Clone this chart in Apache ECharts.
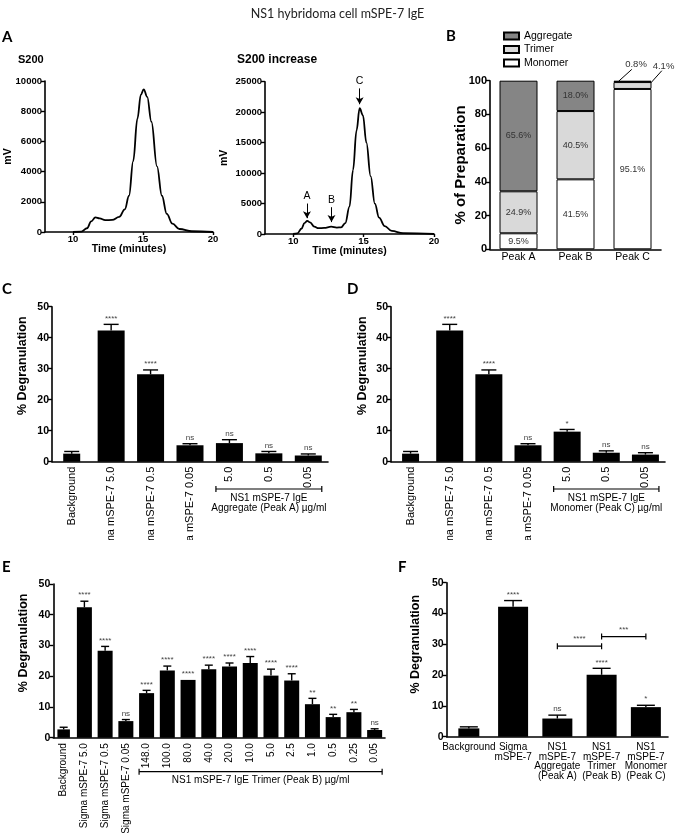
<!DOCTYPE html>
<html><head><meta charset="utf-8">
<script src="https://cdn.jsdelivr.net/npm/echarts@6/dist/echarts.min.js"></script>
<style>
html,body{margin:0;padding:0;background:#fff;}
#main{position:absolute;left:0;top:0;width:675px;height:833px;}
#cd{position:absolute;left:0;top:280px;width:675px;height:260px;}
</style></head><body>
<div id="main"></div><div id="cd"></div>
<script>
// ---------------- DATA ----------------
const figTitle = 'NS1 hybridoma cell mSPE-7 IgE';

// Panel A: chromatograms (time in minutes, signal in mV)
const a1Title = 'S200';
const a1Time = [10.0, 10.6, 11.0, 11.3, 11.6, 11.9, 12.3, 12.8, 13.3, 13.7, 14.0, 14.3, 14.6, 14.85, 15.05, 15.3, 15.6, 16.0, 16.35, 16.7, 17.1, 17.6, 18.5, 20.0];
const a1mV   = [0, 30, 250, 700, 970, 900, 780, 800, 1000, 1500, 2400, 4700, 7500, 9100, 9450, 8950, 7300, 4350, 2400, 1200, 550, 200, 50, 0];
const a1XTicks = [10, 15, 20];

const a2Title = 'S200 increase';
const a2Time = [10.0, 10.3, 10.6, 10.8, 11.0, 11.2, 11.5, 11.8, 12.2, 12.7, 13.1, 13.4, 13.7, 14.0, 14.25, 14.5, 14.72, 14.95, 15.2, 15.5, 15.8, 16.1, 16.5, 17.0, 17.8, 20.0];
const a2mV   = [0, 100, 900, 1800, 2150, 1900, 1200, 950, 1000, 1200, 1050, 1100, 1800, 4500, 10500, 17000, 20650, 19500, 15000, 9500, 5000, 2700, 1300, 500, 150, 0];
const a2XTicks = [10, 15, 20];
const a2ArrowLabels = ['A', 'B', 'C'];
const a2ArrowX = [10.98, 12.72, 14.72];
const a2ArrowFrom = [5000, 4400, 23900];
const a2ArrowTo = [2600, 1950, 21300];

// Panel B: composition of peaks (%)
const bCats = ['Peak A', 'Peak B', 'Peak C'];
const bMonomer = [9.5, 41.5, 95.1];
const bTrimer = [24.9, 40.5, 4.1];
const bAggregate = [65.6, 18.0, 0.8];

// Panels C-F: % degranulation (mean, SEM, significance)
const sigmaCats = ['Background', 'Sigma mSPE-7 5.0', 'Sigma mSPE-7 0.5', 'Sigma mSPE-7 0.05'];
const cCats = sigmaCats.concat(['5.0', '0.5', '0.05']);
const cVals = [2.6, 42.3, 28.2, 5.3, 6.0, 2.7, 2.0];
const cSem  = [0.7, 2.0, 1.4, 0.5, 1.1, 0.6, 0.5];
const cSig  = ['', '****', '****', 'ns', 'ns', 'ns', 'ns'];
const cBracket = 'NS1 mSPE-7 IgE\nAggregate (Peak A) µg/ml';

const dCats = sigmaCats.concat(['5.0', '0.5', '0.05']);
const dVals = [2.6, 42.3, 28.2, 5.3, 9.7, 2.9, 2.3];
const dSem  = [0.7, 2.0, 1.4, 0.5, 0.7, 0.6, 0.6];
const dSig  = ['', '****', '****', 'ns', '*', 'ns', 'ns'];
const dBracket = 'NS1 mSPE-7 IgE\nMonomer (Peak C) µg/ml';

const eCats = sigmaCats.concat(['148.0', '100.0', '80.0', '40.0', '20.0', '10.0', '5.0', '2.5', '1.0', '0.5', '0.25', '0.05']);
const eVals = [2.7, 42.4, 28.3, 5.4, 14.5, 21.9, 18.8, 22.3, 23.2, 24.3, 20.2, 18.6, 10.9, 6.7, 8.3, 2.5];
const eSem  = [0.7, 2.0, 1.4, 0.5, 0.9, 1.4, 0.0, 1.3, 1.1, 2.1, 2.1, 2.2, 1.9, 0.9, 0.9, 0.4];
const eSig  = ['', '****', '****', 'ns', '****', '****', '****', '****', '****', '****', '****', '****', '**', '**', '**', 'ns'];
const eBracket = 'NS1 mSPE-7 IgE Trimer (Peak B) µg/ml';

const fCats = ['Background', 'Sigma\nmSPE-7', 'NS1\nmSPE-7\nAggregate\n(Peak A)', 'NS1\nmSPE-7\nTrimer\n(Peak B)', 'NS1\nmSPE-7\nMonomer\n(Peak C)'];
const fVals = [2.7, 42.2, 5.9, 20.1, 9.6];
const fSem  = [0.5, 2.0, 1.1, 2.1, 0.6];
const fSig  = ['', '****', 'ns', '****', '*'];
const fCompFrom = [2, 3];
const fCompTo = [3, 4];
const fCompLevel = [29.4, 32.5];
const fCompSig = ['****', '***'];

const yName = '% Degranulation';

// ---------------- HELPERS ----------------
const F = '"Liberation Sans", Arial, Helvetica, sans-serif';
const LF = 'Lato, "Open Sans", sans-serif';
const axisLine = {show: true, onZero: false, lineStyle: {color: '#000', width: 1.6}};
const tickOut = {show: true, length: 4, lineStyle: {color: '#000', width: 1.4}};

function valueY(g, max, interval, name, o) {
  return {
    type: 'value', gridIndex: g, min: 0, max: max, interval: interval,
    name: name, nameLocation: 'middle', nameGap: o.nameGap, nameMoveOverlap: false,
    nameTextStyle: {fontFamily: F, fontWeight: 'bold', fontSize: o.nameSize, color: '#000', padding: o.namePad || 0},
    axisLine: axisLine, axisTick: tickOut, splitLine: {show: false},
    axisLabel: {fontFamily: F, fontWeight: 'bold', fontSize: o.labelSize, color: '#000', margin: 3,
                formatter: v => String(v)}
  };
}

function barPanel(opt, g, cats, vals, sem, sig, p) {
  const xi = opt.xAxis.length;
  opt.xAxis.push({
    type: 'category', gridIndex: g, data: cats, axisLine: axisLine, axisTick: {show: false},
    axisLabel: {interval: 0, rotate: p.rotate, fontFamily: F, fontSize: p.xSize, color: '#000',
                margin: p.margin, lineHeight: p.lh}
  });
  opt.xAxis.push({type: 'category', gridIndex: g, data: cats, show: false});
  const yi = opt.yAxis.length;
  opt.yAxis.push(valueY(g, 50, 10, yName, p.y));
  opt.series.push({type: 'bar', xAxisIndex: xi + 1, yAxisIndex: yi, barWidth: p.bgW,
    data: vals.map((v, i) => i === 0 ? v : '-'), itemStyle: {color: '#000'}});
  opt.series.push({type: 'bar', xAxisIndex: xi, yAxisIndex: yi, barWidth: p.barW,
    data: vals.map((v, i) => i === 0 ? '-' : v), itemStyle: {color: '#000'}});
  const si = opt.series.length;
  opt.series.push({
    type: 'custom', xAxisIndex: xi, yAxisIndex: yi, z: 5, clip: false,
    data: vals.map((v, i) => [i, v, v + sem[i]]),
    renderItem: function (params, api) {
      const i = api.value(0);
      const top = api.coord([i, api.value(1)]);
      const cap = api.coord([i, api.value(2)]);
      const hw = p.capW / 2;
      const st = {stroke: '#000', lineWidth: 1.4};
      const ch = [];
      if (api.value(2) > api.value(1)) {
        ch.push({type: 'line', shape: {x1: top[0], y1: top[1], x2: cap[0], y2: cap[1]}, style: st});
        ch.push({type: 'line', shape: {x1: cap[0] - hw, y1: cap[1], x2: cap[0] + hw, y2: cap[1]}, style: st});
      }
      const s = sig[params.dataIndex];
      if (s) ch.push({type: 'text', x: cap[0], y: cap[1] - 2,
        style: {text: s, fontFamily: F, fontSize: 8, fill: '#444', align: 'center', verticalAlign: 'bottom'}});
      return {type: 'group', children: ch};
    }
  });
  return si;
}

function bracket(chart, si, iFrom, iTo, halfW, dyLine, dyText, text, fs, lh) {
  const a = chart.convertToPixel({seriesIndex: si}, [iFrom, 0]);
  const b = chart.convertToPixel({seriesIndex: si}, [iTo, 0]);
  const x1 = a[0] - halfW, x2 = b[0] + halfW, y = a[1] + dyLine;
  const st = {stroke: '#000', lineWidth: 1.2};
  return [
    {type: 'line', shape: {x1: x1, y1: y, x2: x2, y2: y}, style: st},
    {type: 'line', shape: {x1: x1, y1: y - 3, x2: x1, y2: y + 3}, style: st},
    {type: 'line', shape: {x1: x2, y1: y - 3, x2: x2, y2: y + 3}, style: st},
    {type: 'text', x: (x1 + x2) / 2, y: a[1] + dyText,
     style: {text: text, fontFamily: F, fontSize: fs, lineHeight: lh, fill: '#000', align: 'center', verticalAlign: 'top'}}
  ];
}

function zip(xs, ys) { return xs.map((x, i) => [x, ys[i]]); }

// ---------------- MAIN CHART ----------------
const main = echarts.init(document.getElementById('main'));
const opt = {
  animation: false, backgroundColor: '#fff',
  title: {text: figTitle, left: 'center', top: 2,
          textStyle: {fontFamily: LF, fontWeight: 'normal', fontSize: 12.5, color: '#222'}},
  legend: {data: ['Aggregate', 'Trimer', 'Monomer'], orient: 'vertical', left: 498, top: 25,
           itemWidth: 15, itemHeight: 7, itemGap: 1.5, icon: 'rect',
           textStyle: {fontFamily: F, fontSize: 10.5, color: '#000', lineHeight: 12}},
  grid: [
    {left: 45, top: 81, width: 168, height: 151, outerBoundsMode: 'none'},
    {left: 265, top: 81.7, width: 169, height: 152.3, outerBoundsMode: 'none'},
    {left: 490, top: 80.7, width: 171, height: 168.6, outerBoundsMode: 'none'},
    {left: 53.3, top: 584, width: 331.7, height: 153.7, outerBoundsMode: 'none'},
    {left: 446.7, top: 582.7, width: 221.3, height: 154, outerBoundsMode: 'none'}
  ],
  xAxis: [], yAxis: [], series: []
};

// A1 & A2
[[0, a1XTicks], [1, a2XTicks]].forEach(([g, ticks]) => {
  opt.xAxis.push({type: 'value', gridIndex: g, min: 8, max: 20,
    name: 'Time (minutes)', nameLocation: 'middle', nameGap: 12, nameMoveOverlap: false,
    nameTextStyle: {fontFamily: F, fontWeight: 'bold', fontSize: 10.5, color: '#000'},
    axisLine: axisLine, axisTick: {show: true, length: 3, customValues: ticks, lineStyle: {color: '#000', width: 1.4}},
    splitLine: {show: false},
    axisLabel: {customValues: ticks, fontFamily: F, fontWeight: 'bold', fontSize: 9.5, color: '#000', margin: 2,
                formatter: v => String(v)}});
});
opt.yAxis.push(valueY(0, 10000, 2000, 'mV', {nameGap: 31, nameSize: 10.5, labelSize: 9.5}));
opt.yAxis.push(valueY(1, 25000, 5000, 'mV', {nameGap: 35, nameSize: 10.5, labelSize: 9.5}));
const lineStyleA = {color: '#000', width: 1.8};
opt.series.push({type: 'line', xAxisIndex: 0, yAxisIndex: 0, data: zip(a1Time, a1mV), showSymbol: false,
  smooth: 0.4, smoothMonotone: 'x', lineStyle: lineStyleA, itemStyle: {color: '#000'}});
opt.series.push({type: 'line', xAxisIndex: 1, yAxisIndex: 1, data: zip(a2Time, a2mV), showSymbol: false,
  smooth: 0.4, smoothMonotone: 'x', lineStyle: lineStyleA, itemStyle: {color: '#000'},
  markLine: {silent: true, animation: false, symbol: ['none', 'arrow'], symbolSize: [6, 7],
    lineStyle: {color: '#000', width: 1, type: 'solid'},
    label: {show: true, position: 'start', formatter: '{b}', fontFamily: F, fontSize: 10.5, color: '#000', distance: 2},
    emphasis: {disabled: true},
    data: a2ArrowX.map((x, i) => [{name: a2ArrowLabels[i], coord: [x, a2ArrowFrom[i]]}, {coord: [x, a2ArrowTo[i]]}])}});

// B
opt.xAxis.push({type: 'category', gridIndex: 2, data: bCats, axisLine: axisLine, axisTick: {show: false},
  axisLabel: {fontFamily: F, fontSize: 10.5, color: '#000', margin: 2}});
opt.yAxis.push(valueY(2, 100, 20, '% of Preparation', {nameGap: 22, nameSize: 15, labelSize: 11}));
const bLabel = {show: true, position: 'inside', fontFamily: F, fontSize: 9, color: '#333',
  formatter: p => p.value >= 5 ? p.value.toFixed(1) + '%' : ''};
const bSeries = [['Monomer', bMonomer, '#ffffff'], ['Trimer', bTrimer, '#d9d9d9'], ['Aggregate', bAggregate, '#858585']];
const bSeriesIdx = {};
bSeries.forEach(([name, data, color]) => {
  bSeriesIdx[name] = opt.series.length;
  opt.series.push({type: 'bar', name: name, stack: 'b', xAxisIndex: 2, yAxisIndex: 2, barWidth: 38, data: data,
    itemStyle: {color: color, borderColor: '#000', borderWidth: 1}, label: bLabel});
});

// E & F
const eSi = barPanel(opt, 3, eCats, eVals, eSem, eSig,
  {rotate: 90, xSize: 10, margin: 5.5, bgW: 12.5, barW: 15, capW: 8,
   y: {nameGap: 23, nameSize: 12.5, labelSize: 10.5, namePad: [0, 0, 0, 36]}});
const fSi = barPanel(opt, 4, fCats, fVals, fSem, fSig,
  {rotate: 0, xSize: 10, lh: 9.5, margin: 6, bgW: 21, barW: 30, capW: 18,
   y: {nameGap: 25, nameSize: 12.5, labelSize: 10.5, namePad: [0, 0, 0, 31]}});

main.setOption(opt);

// graphics for main chart
const g = [];
const letter = (t, x, y) => ({type: 'text', x: x, y: y,
  style: {text: t, fontFamily: LF, fontWeight: 'bold', fontSize: 15, fill: '#000', verticalAlign: 'middle'}});
g.push(letter('A', 2, 37.5), letter('B', 446, 36), letter('C', 2, 289), letter('D', 347, 289),
       letter('E', 2, 567), letter('F', 398, 567));
g.push({type: 'text', x: 18, y: 60, style: {text: a1Title, fontFamily: F, fontWeight: 'bold', fontSize: 11, fill: '#000', verticalAlign: 'middle'}});
g.push({type: 'text', x: 237, y: 60, style: {text: a2Title, fontFamily: F, fontWeight: 'bold', fontSize: 12, fill: '#000', verticalAlign: 'middle'}});

// B outside labels for small segments of Peak C
const smallLabels = [
  {si: bSeriesIdx['Aggregate'], yv: bMonomer[2] + bTrimer[2] + bAggregate[2] / 2, val: bAggregate[2], ax: -14, lx: 13.3, ly: -12, tx: 17.5, ty: -17},
  {si: bSeriesIdx['Trimer'], yv: bMonomer[2] + bTrimer[2] / 2, val: bTrimer[2], ax: 16, lx: 13.3, ly: -14.8, tx: 15, ty: -19}
];
smallLabels.forEach(s => {
  const p = main.convertToPixel({seriesIndex: s.si}, [2, s.yv]);
  const x0 = p[0] + s.ax, y0 = p[1];
  g.push({type: 'line', shape: {x1: x0, y1: y0, x2: x0 + s.lx, y2: y0 + s.ly}, style: {stroke: '#000', lineWidth: 1}});
  g.push({type: 'text', x: x0 + s.tx, y: y0 + s.ty,
    style: {text: s.val.toFixed(1) + '%', fontFamily: F, fontSize: 9.5, fill: '#333', align: 'center', verticalAlign: 'middle'}});
});

// E bracket
bracket(main, eSi, 4, eCats.length - 1, 7.5, 34, 37.8, eBracket, 10, 10).forEach(e => g.push(e));

// F comparisons
fCompFrom.forEach((a, k) => {
  const p1 = main.convertToPixel({seriesIndex: fSi}, [a, fCompLevel[k]]);
  const p2 = main.convertToPixel({seriesIndex: fSi}, [fCompTo[k], fCompLevel[k]]);
  const st = {stroke: '#000', lineWidth: 1.2};
  g.push({type: 'line', shape: {x1: p1[0], y1: p1[1], x2: p2[0], y2: p2[1]}, style: st});
  g.push({type: 'line', shape: {x1: p1[0], y1: p1[1] - 3, x2: p1[0], y2: p1[1] + 3}, style: st});
  g.push({type: 'line', shape: {x1: p2[0], y1: p2[1] - 3, x2: p2[0], y2: p2[1] + 3}, style: st});
  g.push({type: 'text', x: (p1[0] + p2[0]) / 2, y: p1[1] - 3,
    style: {text: fCompSig[k], fontFamily: F, fontSize: 8, fill: '#444', align: 'center', verticalAlign: 'bottom'}});
});
main.setOption({graphic: g});

// ---------------- C & D CHART (clipped panel) ----------------
const cd = echarts.init(document.getElementById('cd'));
const opt2 = {
  animation: false, backgroundColor: 'transparent',
  grid: [
    {left: 52, top: 26.7, width: 276, height: 155, outerBoundsMode: 'none'},
    {left: 391, top: 26.7, width: 274, height: 155, outerBoundsMode: 'none'}
  ],
  xAxis: [], yAxis: [], series: []
};
const cSi = barPanel(opt2, 0, cCats, cVals, cSem, cSig,
  {rotate: 90, xSize: 11, margin: 5, bgW: 17, barW: 27, capW: 15,
   y: {nameGap: 23, nameSize: 12.5, labelSize: 10.5, namePad: [0, 0, 0, 37]}});
const dSi = barPanel(opt2, 1, dCats, dVals, dSem, dSig,
  {rotate: 90, xSize: 11, margin: 5, bgW: 17, barW: 27, capW: 15,
   y: {nameGap: 22, nameSize: 12.5, labelSize: 10.5, namePad: [0, 0, 0, 37]}});
cd.setOption(opt2);
const g2 = [];
bracket(cd, cSi, 4, 6, 13.5, 27.3, 31.3, cBracket, 10, 10).forEach(e => g2.push(e));
bracket(cd, dSi, 4, 6, 13.5, 27.3, 31.3, dBracket, 10, 10).forEach(e => g2.push(e));
cd.setOption({graphic: g2});
</script>
</body></html>
